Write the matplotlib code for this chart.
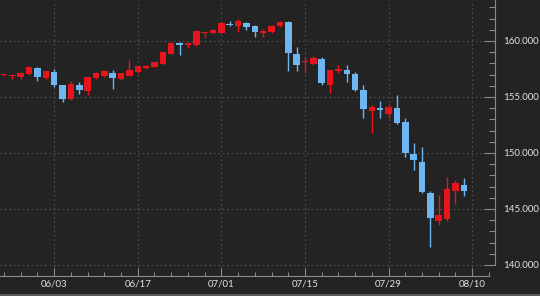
import matplotlib
matplotlib.use("Agg")
import matplotlib.pyplot as plt
from matplotlib.lines import Line2D
from matplotlib.ticker import FixedLocator, MultipleLocator, FuncFormatter
import numpy as np

# daily candles, 2024-05-24 .. 2024-08-09
dates = [
    "05/24", "05/27", "05/28", "05/29", "05/30", "05/31",
    "06/03", "06/04", "06/05", "06/06", "06/07",
    "06/10", "06/11", "06/12", "06/13", "06/14",
    "06/17", "06/18", "06/19", "06/20", "06/21",
    "06/24", "06/25", "06/26", "06/27", "06/28",
    "07/01", "07/02", "07/03", "07/04", "07/05",
    "07/08", "07/09", "07/10", "07/11", "07/12",
    "07/15", "07/16", "07/17", "07/18", "07/19",
    "07/22", "07/23", "07/24", "07/25", "07/26",
    "07/29", "07/30", "07/31", "08/01", "08/02",
    "08/05", "08/06", "08/07", "08/08", "08/09",
]
opens = [
    156.95, 156.84, 156.78, 157.05, 157.58, 156.70,
    157.20, 156.05, 154.82, 156.07, 155.56,
    156.70, 156.85, 157.17, 156.60, 156.90,
    157.20, 157.60, 157.72, 157.95, 158.85,
    159.78, 159.60, 159.60, 160.68, 160.70,
    160.75, 161.52, 161.35, 161.65, 161.35,
    160.70, 160.80, 161.30, 161.67, 158.85,
    158.08, 157.95, 158.36, 156.07, 157.32,
    157.41, 157.05, 155.63, 153.78, 153.99,
    153.50, 153.99, 152.74, 149.91, 149.23,
    146.46, 143.96, 144.10, 146.64, 147.14,
]
highs = [
    157.05, 157.00, 157.22, 157.75, 157.70, 157.35,
    157.47, 156.10, 156.43, 156.32, 156.82,
    157.20, 157.40, 157.40, 157.15, 158.30,
    157.80, 157.90, 158.15, 159.00, 159.90,
    159.94, 159.85, 160.90, 160.85, 161.05,
    161.62, 161.75, 161.95, 161.70, 161.40,
    161.10, 161.40, 161.80, 161.75, 159.45,
    158.55, 158.66, 158.60, 157.45, 157.90,
    157.90, 157.25, 156.05, 154.30, 154.60,
    154.35, 155.18, 153.10, 150.87, 150.50,
    146.60, 146.25, 147.88, 147.59, 147.80,
]
lows = [
    156.85, 156.65, 156.62, 157.00, 156.40, 156.60,
    155.92, 154.58, 154.72, 155.30, 155.20,
    156.62, 156.75, 155.70, 156.55, 156.85,
    157.10, 157.50, 157.65, 157.90, 158.80,
    158.75, 159.35, 159.55, 160.30, 160.65,
    160.70, 161.30, 160.83, 160.95, 160.33,
    160.40, 160.75, 161.25, 157.35, 157.30,
    157.17, 157.86, 156.07, 155.33, 157.10,
    156.30, 155.50, 153.10, 151.81, 153.10,
    153.10, 152.60, 149.60, 148.48, 146.40,
    141.63, 143.57, 143.90, 145.45, 146.20,
]
closes = [
    157.00, 156.92, 157.18, 157.72, 156.80, 157.30,
    156.05, 154.85, 156.20, 155.58, 156.78,
    157.12, 157.30, 156.68, 157.10, 157.42,
    157.75, 157.80, 158.10, 158.98, 159.85,
    159.68, 159.78, 160.88, 160.80, 160.98,
    161.58, 161.45, 161.80, 161.28, 160.78,
    160.92, 161.37, 161.72, 158.90, 157.85,
    158.20, 158.45, 156.22, 157.41, 157.50,
    157.05, 155.63, 153.90, 154.14, 153.84,
    154.14, 152.65, 149.97, 149.38, 146.49,
    144.17, 144.44, 146.79, 147.29, 146.64,
]
tick_labels = ["06/03", "06/17", "07/01", "07/15", "07/29", "08/10"]

BG = "#232323"
UP = "#e8141c"
DOWN = "#6db6f2"
TXT = "#e2e2e2"
AXC = "#8a8a8a"

plt.rcParams["font.family"] = ["Lato", "DejaVu Sans"]

fig = plt.figure(figsize=(5.4, 2.96), dpi=100, facecolor=BG)
ax = fig.add_axes([0, 20.5 / 296, 495 / 540, 275.5 / 296])
ax.set_facecolor(BG)

x = np.arange(len(dates))
o = np.array(opens)
h = np.array(highs)
l = np.array(lows)
c = np.array(closes)
colors = np.where(c >= o, UP, DOWN)

# wicks then bodies
ax.vlines(x, l, h, colors=colors, linewidth=1.0, zorder=3)
body = np.maximum(np.abs(c - o), 0.09)
ax.bar(x, body, bottom=np.minimum(o, c), width=0.78, color=colors,
       linewidth=0, zorder=4)

ax.set_xlim(-0.478, 58.73)
ax.set_ylim(139.06, 163.66)

# x axis: major ticks at labelled dates, minor every 2 sessions
tick_pos = [dates.index(t) if t in dates else len(dates) for t in tick_labels]
ax.xaxis.set_major_locator(FixedLocator(tick_pos))
ax.xaxis.set_minor_locator(FixedLocator(np.arange(0, 59, 2)))
ax.set_xticklabels(tick_labels)

ax.yaxis.tick_right()
ax.yaxis.set_major_locator(MultipleLocator(5))
ax.yaxis.set_minor_locator(MultipleLocator(1))
ax.yaxis.set_major_formatter(FuncFormatter(lambda v, p: f"{v:.3f}"))

ax.tick_params(axis="x", which="major", direction="in", length=6, width=0.8,
               color=AXC, labelcolor=TXT, labelsize=7, pad=3)
ax.tick_params(axis="x", which="minor", direction="in", length=3, width=0.8,
               color=AXC)
ax.tick_params(axis="y", which="major", direction="in", length=8, width=0.8,
               color=AXC, labelcolor=TXT, labelsize=7, pad=6)
ax.tick_params(axis="y", which="minor", direction="in", length=4.5, width=0.8,
               color=AXC)

for side in ("left", "top"):
    ax.spines[side].set_visible(False)
ax.spines["right"].set_color(AXC)
ax.spines["right"].set_bounds(140, 163.66)
ax.spines["bottom"].set_color(AXC)
ax.spines["bottom"].set_bounds(-0.478, 58.0)

ax.grid(True, which="major", linestyle=(0, (1.5, 2.5)), linewidth=0.8,
        color="#505050", zorder=0)
ax.set_axisbelow(True)

# thin light strip along the bottom edge
fig.add_artist(Line2D([0, 1], [1.5 / 296, 1.5 / 296], transform=fig.transFigure,
                      color="#5a5a5a", linewidth=1.5))

fig.savefig("out.png", dpi=100, facecolor=BG)
